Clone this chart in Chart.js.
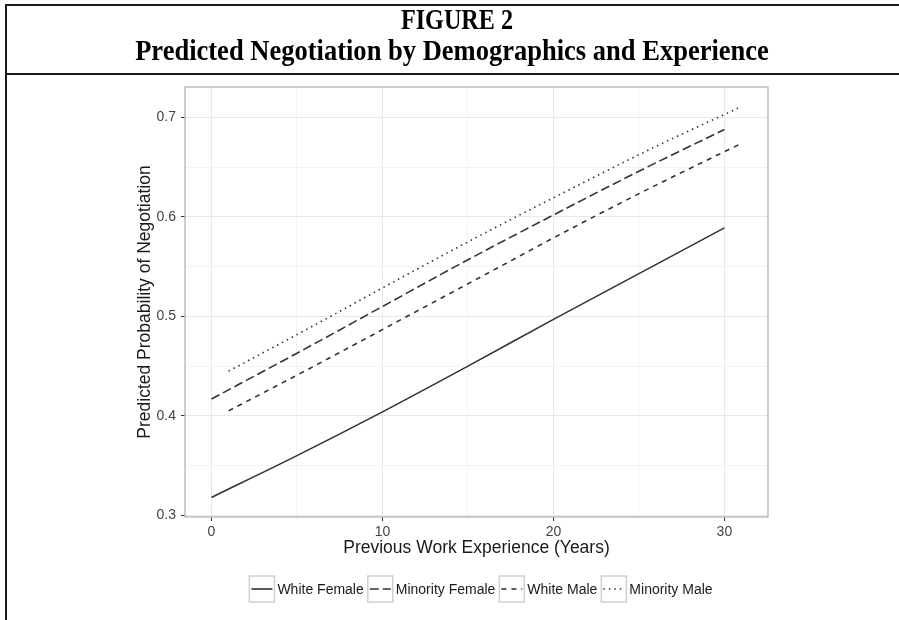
<!DOCTYPE html>
<html>
<head>
<meta charset="utf-8">
<script src="https://cdn.jsdelivr.net/npm/chart.js@4/dist/chart.umd.min.js"></script>
<style>
  body { margin: 0; background: #fff; }
  #wrap { position: relative; width: 899px; height: 620px; overflow: hidden; background: #fff; }
  .rule { position: absolute; background: #1a1a1a; }
  #c { position: absolute; left: 0; top: 0; }
</style>
</head>
<body>
<div id="wrap">
  <div class="rule" style="left:5px; top:4px; width:894px; height:2px;"></div>
  <div class="rule" style="left:5px; top:4px; width:2px; height:616px;"></div>
  <div class="rule" style="left:5px; top:73px; width:894px; height:2px;"></div>
  <canvas id="c" width="899" height="620"></canvas>
</div>
<script>
// data
const titleLines = ['FIGURE 2', 'Predicted Negotiation by Demographics and Experience'];
const seriesNames = ['White Female', 'Minority Female', 'White Male', 'Minority Male'];
const femaleYears = [0, 5, 10, 15, 20, 25, 30];
const maleYears = [1, 6, 11, 16, 21, 26, 31];
const whiteFemale = [0.318, 0.360, 0.404, 0.450, 0.497, 0.543, 0.589];
const minorityFemale = [0.417, 0.463, 0.510, 0.557, 0.602, 0.646, 0.688];
const whiteMale = [0.405, 0.450, 0.496, 0.542, 0.588, 0.632, 0.674];
const minorityMale = [0.445, 0.491, 0.538, 0.584, 0.628, 0.671, 0.711];
const xTicks = [0, 10, 20, 30];
const yTicks = [0.3, 0.4, 0.5, 0.6, 0.7];

const lineCol = '#333333';
const dashes = [[], [9, 4], [5, 5], [1.5, 4]];
const sans = '"Liberation Sans", Arial, sans-serif';

function pts(xs, ys) {
  return xs.map((x, i) => ({ x: x, y: ys[i] }));
}

const allSeries = [
  pts(femaleYears, whiteFemale),
  pts(femaleYears, minorityFemale),
  pts(maleYears, whiteMale),
  pts(maleYears, minorityMale)
];

const isMajorX = v => xTicks.includes(Math.round(v));
const isMajorY = v => yTicks.some(t => Math.abs(t - v) < 1e-6);

// figure heading, tall bold serif
const heading = {
  id: 'heading',
  afterDraw(chart) {
    const ctx = chart.ctx;
    const baselines = [29, 60];
    const centers = [457, 452];
    ctx.save();
    ctx.fillStyle = '#000';
    ctx.textAlign = 'center';
    ctx.textBaseline = 'alphabetic';
    ctx.font = 'bold 26px "Liberation Serif", "Times New Roman", serif';
    titleLines.forEach((t, i) => {
      ctx.save();
      ctx.translate(centers[i], baselines[i]);
      ctx.scale(i === 0 ? 0.93 : 1.02, 1.14);
      ctx.fillText(t, 0, 0);
      ctx.restore();
    });
    ctx.restore();
  }
};

// panel border drawn over the lines, like ggplot
const panelBorder = {
  id: 'panelBorder',
  afterDatasetsDraw(chart) {
    const a = chart.chartArea, ctx = chart.ctx;
    ctx.save();
    ctx.strokeStyle = '#b3b3b3';
    ctx.lineWidth = 1.3;
    ctx.strokeRect(a.left, a.top, a.right - a.left, a.bottom - a.top);
    ctx.restore();
  }
};

// ggplot style legend keys under the plot
const keyLegend = {
  id: 'keyLegend',
  afterDraw(chart) {
    const ctx = chart.ctx;
    ctx.save();
    ctx.font = '14px ' + sans;
    const box = 25, gapText = 3, gapItem = 4;
    const widths = seriesNames.map(n => ctx.measureText(n).width);
    let total = 0;
    widths.forEach((w, i) => { total += box + gapText + w + (i < widths.length - 1 ? gapItem : 0); });
    let x = 481 - total / 2;
    const cy = 589;
    chart.data.datasets.forEach((ds, i) => {
      ctx.strokeStyle = '#d0d0d0';
      ctx.lineWidth = 1.5;
      ctx.setLineDash([]);
      ctx.strokeRect(x, cy - 13, box, 26);
      ctx.strokeStyle = ds.borderColor;
      ctx.lineWidth = ds.borderWidth;
      ctx.setLineDash(ds.borderDash);
      ctx.beginPath();
      ctx.moveTo(x + 2, cy);
      ctx.lineTo(x + box - 2, cy);
      ctx.stroke();
      ctx.setLineDash([]);
      ctx.fillStyle = '#1a1a1a';
      ctx.textBaseline = 'middle';
      ctx.fillText(ds.label, x + box + gapText, cy + 1);
      x += box + gapText + widths[i] + gapItem;
    });
    ctx.restore();
  }
};

new Chart(document.getElementById('c'), {
  type: 'line',
  data: {
    datasets: allSeries.map((d, i) => ({
      label: seriesNames[i],
      data: d,
      borderColor: lineCol,
      borderWidth: 1.6,
      borderDash: dashes[i],
      pointRadius: 0,
      fill: false,
      cubicInterpolationMode: 'monotone'
    }))
  },
  options: {
    responsive: false,
    animation: false,
    layout: { padding: { left: 125, right: 131, top: 87, bottom: 53 } },
    plugins: { legend: { display: false }, tooltip: { enabled: false } },
    scales: {
      x: {
        type: 'linear',
        min: -1.55,
        max: 32.55,
        afterFit(s) { s.height = 50; },
        ticks: {
          stepSize: 5,
          includeBounds: false,
          autoSkip: false,
          maxRotation: 0,
          padding: 3,
          color: '#444444',
          font: { family: sans, size: 14 },
          callback: v => isMajorX(v) ? String(Math.round(v)) : ''
        },
        grid: {
          color: c => isMajorX(c.tick.value) ? '#e8e8e8' : '#f3f3f3',
          lineWidth: 1,
          tickLength: 4,
          tickColor: c => isMajorX(c.tick.value) ? '#333333' : 'rgba(0,0,0,0)'
        },
        border: { display: false },
        title: {
          display: true,
          text: 'Previous Work Experience (Years)',
          color: '#1a1a1a',
          font: { family: sans, size: 17.5 },
          padding: { top: 0, bottom: 8 }
        }
      },
      y: {
        type: 'linear',
        min: 0.2983,
        max: 0.7307,
        afterFit(s) { s.width = 60; },
        ticks: {
          stepSize: 0.05,
          includeBounds: false,
          autoSkip: false,
          padding: 5,
          color: '#444444',
          font: { family: sans, size: 14 },
          callback: v => isMajorY(v) ? v.toFixed(1) : ''
        },
        grid: {
          color: c => isMajorY(c.tick.value) ? '#e8e8e8' : '#f3f3f3',
          lineWidth: 1,
          tickLength: 4,
          tickColor: c => isMajorY(c.tick.value) ? '#333333' : 'rgba(0,0,0,0)'
        },
        border: { display: false },
        title: {
          display: true,
          text: 'Predicted Probability of Negotiation',
          color: '#1a1a1a',
          font: { family: sans, size: 17.5 },
          padding: { top: 10, bottom: 0 }
        }
      }
    }
  },
  plugins: [heading, panelBorder, keyLegend]
});
</script>
</body>
</html>
